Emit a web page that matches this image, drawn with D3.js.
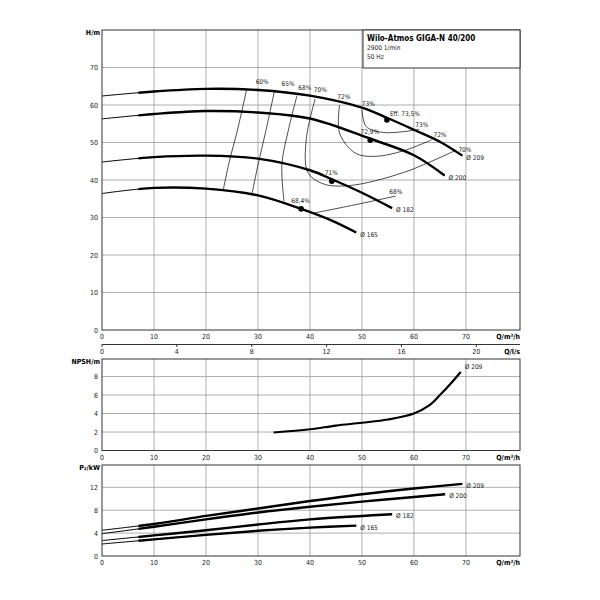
<!DOCTYPE html>
<html><head><meta charset="utf-8">
<script src="https://cdn.jsdelivr.net/npm/d3@7"></script>
<style>body{margin:0;background:#fff}text{font-family:"DejaVu Sans Condensed","DejaVu Sans",sans-serif}</style>
</head><body><svg id="c" width="600" height="600"></svg>
<script>
const qTicks=[0,10,20,30,40,50,60,70];
const hTicks=[0,10,20,30,40,50,60,70];
const npshTicks=[0,2,4,6,8];
const pTicks=[0,4,8,12];
const lsTicks=[0,4,8,12,16,20];
const headCurves=[
 {name:"Ø 209",pts:[[0,62.4],[10,63.6],[20,64.3],[30,64.0],[40,62.5],[50,59.3],[54.8,56.6],[60,53.4],[65,50.2],[69.3,46.5]]},
 {name:"Ø 200",pts:[[0,56.3],[10,57.6],[20,58.4],[30,58.0],[40,56.4],[51.6,51.0],[60,46.6],[65.9,41.2]]},
 {name:"Ø 182",pts:[[0,44.8],[10,46.1],[20,46.5],[30,45.7],[40,42.6],[44.2,40.2],[50,36.6],[55.8,32.5]]},
 {name:"Ø 165",pts:[[0,36.4],[10,37.9],[20,37.7],[30,35.9],[38.3,32.3],[44,29.3],[48.9,26.0]]}];
const bepPoints=[{q:54.8,h:56.0,l:"Eff. 73,5%"},{q:51.6,h:50.6,l:"72,9%"},{q:44.2,h:39.7,l:"71%"},{q:38.3,h:32.3,l:"68,4%"}];
const isoLines=[
 {l:"60%",pts:[[27.8,64.0],[26.0,53],[24.5,45],[23.3,37.2]]},
 {l:"65%",pts:[[33.2,63.9],[31.5,53],[30.0,44],[28.8,35.9]]},
 {l:"68%",pts:[[37.5,62.5],[35.8,53],[34.6,44.2],[35.0,34.4]]},
 {l:"70%",pts:[[41.0,61.6],[39.3,51],[39.6,42],[42.5,39],[47.5,38.5],[58,42],[68,47.9]]},
 {l:"72%",pts:[[45.7,60.0],[45.7,52.5],[48.7,47.2],[52.5,46.3],[58,47.8],[63.4,50.7]]},
 {l:"73%",pts:[[50.0,58.8],[50.8,54.3],[54,52.7],[58,52.9],[61,53.5]]},
 {l:"68%",pts:[[40.8,31.2],[48,33.2],[56.5,35.7]]}];
const isoLabels=[[30.8,65.5,"60%"],[35.8,65.2,"65%"],[39.0,64.0,"68%"],[42.0,63.4,"70%"],[46.5,61.5,"72%"],[51.2,59.8,"73%"],[61.5,54.2,"73%"],[65.0,51.6,"72%"],[69.8,47.6,"70%"],[56.5,36.4,"68%"]];
const npshCurve=[[33,1.95],[40,2.3],[45,2.7],[50,3.0],[55,3.35],[60,4.0],[63,4.9],[65,6.0],[67,7.2],[69,8.5]];
const powerCurves=[
 {name:"Ø 209",pts:[[0,4.5],[10,5.6],[20,7.0],[30,8.3],[40,9.6],[50,10.8],[60,11.8],[69.3,12.6]]},
 {name:"Ø 200",pts:[[0,3.9],[10,5.1],[20,6.4],[30,7.6],[40,8.6],[50,9.5],[60,10.3],[66,10.8]]},
 {name:"Ø 182",pts:[[0,2.7],[10,3.6],[20,4.5],[30,5.5],[40,6.4],[50,7.0],[55.8,7.3]]},
 {name:"Ø 165",pts:[[0,2.1],[10,2.9],[20,3.7],[30,4.4],[40,4.95],[48.9,5.3]]}];

const svg=d3.select("#c");
const x=d3.scaleLinear().domain([0,80.4]).range([102,520]);
const xls=d3.scaleLinear().domain([0,80.4/3.6]).range([102,520]);
const panels=[
 {y:d3.scaleLinear().domain([0,80]).range([330,30]),ticks:hTicks,lab:"H/m"},
 {y:d3.scaleLinear().domain([0,9.9]).range([450.5,359]),ticks:npshTicks,lab:"NPSH/m"},
 {y:d3.scaleLinear().domain([0,15.9]).range([556,465]),ticks:pTicks,lab:"P₂/kW"}];
const fs=7, tc="#222";
panels.forEach(p=>{
  const g=svg.append("g");
  const [y0,y1]=p.y.range();
  g.selectAll(".v").data(qTicks.slice(1)).join("line").attr("x1",d=>x(d)).attr("x2",d=>x(d)).attr("y1",y0).attr("y2",y1).attr("stroke","#999").attr("stroke-width",0.8);
  g.selectAll(".h").data(p.ticks.slice(1)).join("line").attr("x1",102).attr("x2",520).attr("y1",d=>p.y(d)).attr("y2",d=>p.y(d)).attr("stroke","#999").attr("stroke-width",0.8);
  g.append("rect").attr("x",102).attr("y",y1).attr("width",418).attr("height",y0-y1).attr("fill","none").attr("stroke","#333").attr("stroke-width",1);
  g.selectAll(".yl").data(p.ticks).join("text").attr("x",98).attr("y",d=>p.y(d)+2.5).attr("text-anchor","end").attr("font-size",fs).attr("fill",tc).text(d=>d);
  g.selectAll(".xl").data(qTicks).join("text").attr("x",d=>x(d)).attr("y",y0+9).attr("text-anchor","middle").attr("font-size",fs).attr("fill",tc).text(d=>d);
  g.append("text").attr("x",520).attr("y",y0+9).attr("text-anchor","end").attr("font-size",fs).attr("font-weight","bold").text("Q/m³/h");
  g.append("text").attr("x",100).attr("y",y1+5).attr("text-anchor","end").attr("font-size",fs).attr("font-weight","bold").text(p.lab);
});
svg.append("line").attr("x1",102).attr("x2",520).attr("y1",344.5).attr("y2",344.5).attr("stroke","#333");
svg.selectAll(".ls").data(lsTicks).join("line").attr("x1",d=>xls(d)).attr("x2",d=>xls(d)).attr("y1",344.5).attr("y2",347).attr("stroke","#333");
svg.selectAll(".lst").data(lsTicks).join("text").attr("x",d=>xls(d)).attr("y",354).attr("text-anchor","middle").attr("font-size",fs).attr("fill",tc).text(d=>d);
svg.append("text").attr("x",520).attr("y",354).attr("text-anchor","end").attr("font-size",fs).attr("font-weight","bold").text("Q/l/s");
svg.append("rect").attr("x",363).attr("y",30).attr("width",157).attr("height",38).attr("fill","#fff").attr("stroke","#333");
svg.append("text").attr("x",367).attr("y",41).attr("font-size",8).attr("font-weight","bold").text("Wilo-Atmos GIGA-N 40/200");
svg.append("text").attr("x",367).attr("y",50).attr("font-size",6.5).attr("fill",tc).text("2900 1/min");
svg.append("text").attr("x",367).attr("y",59).attr("font-size",6.5).attr("fill",tc).text("50 Hz");

const H=panels[0].y,N=panels[1].y,P=panels[2].y;
const cv=d3.curveCatmullRom.alpha(0.5);
function draw(pts,ys,w){return svg.append("path").attr("d",d3.line().x(d=>x(d[0])).y(d=>ys(d[1])).curve(cv)(pts)).attr("fill","none").attr("stroke","#000").attr("stroke-width",w);}
isoLines.forEach(c=>draw(c.pts,H,0.7));
isoLabels.forEach(l=>svg.append("text").attr("x",x(l[0])).attr("y",H(l[1])).attr("text-anchor","middle").attr("font-size",6.5).attr("fill",tc).text(l[2]));
function drawCurve(c,ys,startThick){
  draw(c.pts,ys,1);
  const p=draw(c.pts,ys,2.4);
  const node=p.node(),L=node.getTotalLength();
  let lo=0,hi=L;for(let i=0;i<30;i++){const m=(lo+hi)/2;if(node.getPointAtLength(m).x<x(startThick))lo=m;else hi=m;}
  p.attr("stroke-dasharray",`0 ${lo} ${L} 0`);
  const e=c.pts[c.pts.length-1];
  svg.append("text").attr("x",x(e[0])+4).attr("y",ys(e[1])+4).attr("font-size",6.5).attr("fill",tc).text(c.name);
}
headCurves.forEach(c=>drawCurve(c,H,7));
svg.selectAll(".bep").data(bepPoints).join("circle").attr("cx",d=>x(d.q)).attr("cy",d=>H(d.h)).attr("r",2.8).attr("fill","#000");
svg.selectAll(".bepl").data(bepPoints).join("text").attr("x",d=>x(d.q)+(d.l.startsWith("Eff")?3:-0.5)).attr("y",d=>H(d.h)-(d.l.startsWith("Eff")?4:6)).attr("text-anchor",d=>d.l.startsWith("Eff")?"start":"middle").attr("font-size",6.5).attr("fill",tc).text(d=>d.l);
draw(npshCurve,N,2.2);
svg.append("text").attr("x",x(69)+4).attr("y",N(8.5)-3).attr("font-size",6.5).attr("fill",tc).text("Ø 209");
powerCurves.forEach(c=>drawCurve(c,P,7));
</script></body></html>
